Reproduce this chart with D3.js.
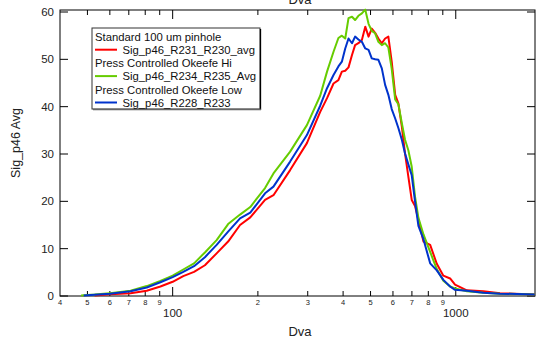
<!DOCTYPE html>
<html>
<head>
<meta charset="utf-8">
<script src="https://cdn.jsdelivr.net/npm/d3@7"></script>
<style>
  html, body { margin: 0; padding: 0; background: #fff; }
  svg { display: block; font-family: "Liberation Sans", Arial, sans-serif; }
</style>
</head>
<body>
<svg id="chart" width="537" height="341"></svg>
<script>
// Dva values (x) shared by all three series
const dva = [47.5, 48.5, 53, 60, 71, 81, 90.5, 100, 109, 119, 130, 143, 157, 173, 188, 212, 227, 260, 298, 332,
  351, 370, 385, 396, 407, 418, 430, 441, 453, 466, 479, 492, 505, 519, 533, 548, 563, 578, 594, 611,
  627, 645, 662, 680, 699, 718, 738, 769, 812, 857, 904, 955, 994, 1094, 1252, 1433, 1900];

const redVals = [null, null, 0.1, 0.35, 0.6, 1.1, 2.0, 3.0, 4.2, 5.1, 6.5, 9.0, 11.5, 15.0, 16.6, 20.3, 21.3, 26.6, 32.3, 38.9,
  41.8, 44.9, 45.6, 47.4, 47.6, 48.3, 50.9, 53.0, 53.4, 54.1, 56.9, 54.8, 56.5, 55.6, 54.4, 53.4, 54.4, 54.8, 49.5, 42.5,
  40.7, 35.8, 30.1, 25.2, 20.3, 19.0, 16.1, 11.5, 10.8, 6.8, 4.3, 3.7, 2.4, 1.2, 1.0, 0.6, 0.3];

const greenVals = [0.1, 0.15, 0.3, 0.6, 1.1, 2.1, 3.2, 4.3, 5.6, 6.9, 9.2, 11.8, 15.2, 17.2, 18.8, 22.8, 25.9, 30.5, 36.1, 42.3,
  47.4, 51.6, 54.5, 55.0, 54.4, 58.7, 59.0, 58.3, 59.2, 59.7, 60.5, 57.5, 56.0, 55.5, 53.7, 53.0, 53.4, 52.5, 48.0, 41.5,
  40.5, 36.5, 33.0, 30.8, 27.3, 21.0, 16.5, 13.0, 9.3, 5.7, 3.2, 2.0, 1.6, 1.0, 0.7, 0.5, 0.3];

const blueVals = [null, 0.1, 0.25, 0.5, 1.0, 1.8, 2.9, 4.0, 5.1, 6.3, 8.2, 10.8, 13.6, 16.4, 17.6, 21.7, 23.1, 28.4, 34.0, 40.2,
  43.9, 46.7, 48.5, 49.5, 52.3, 54.4, 53.4, 54.8, 54.2, 53.7, 52.3, 52.0, 50.2, 50.0, 49.9, 48.1, 44.6, 42.5, 39.5, 37.5,
  35.5, 33.0, 30.1, 27.8, 25.5, 20.0, 14.8, 12.0, 6.9, 5.4, 3.4, 2.0, 1.3, 1.1, 0.7, 0.5, 0.3];

const legendItems = [
  { title: "Standard 100 um pinhole", name: "Sig_p46_R231_R230_avg", color: "#ff0000", vals: redVals },
  { title: "Press Controlled Okeefe Hi", name: "Sig_p46_R234_R235_Avg", color: "#66cc00", vals: greenVals },
  { title: "Press Controlled Okeefe Low", name: "Sig_p46_R228_R233", color: "#0033cc", vals: blueVals }
];

const yTicks = [0, 10, 20, 30, 40, 50, 60];
const xMinor = [50, 60, 70, 80, 90, 200, 300, 400, 500, 600, 700, 800, 900];
const xMajor = [100, 1000];

const svg = d3.select("#chart");
const mLeft = 60, mRight = 535, mTop = 10, mBottom = 296;

const x = d3.scaleLog().domain([40, 1905]).range([mLeft, mRight]);
const y = d3.scaleLinear().domain([0, 60]).range([mBottom, 12]);

// frame
svg.append("rect")
  .attr("x", mLeft).attr("y", mTop)
  .attr("width", mRight - mLeft).attr("height", mBottom - mTop)
  .attr("fill", "none").attr("stroke", "#000").attr("stroke-width", 1);

// x ticks, bottom and top, pointing inward
const g = svg.append("g").attr("stroke", "#000").attr("stroke-width", 1);
xMinor.forEach(v => {
  g.append("line").attr("x1", x(v)).attr("x2", x(v)).attr("y1", mBottom).attr("y2", mBottom - 5);
  g.append("line").attr("x1", x(v)).attr("x2", x(v)).attr("y1", mTop).attr("y2", mTop + 5);
});
xMajor.forEach(v => {
  g.append("line").attr("x1", x(v)).attr("x2", x(v)).attr("y1", mBottom).attr("y2", mBottom - 9);
  g.append("line").attr("x1", x(v)).attr("x2", x(v)).attr("y1", mTop).attr("y2", mTop + 9);
});
yTicks.forEach(v => {
  g.append("line").attr("x1", mLeft).attr("x2", mLeft + 8).attr("y1", y(v)).attr("y2", y(v));
  g.append("line").attr("x1", mRight).attr("x2", mRight - 8).attr("y1", y(v)).attr("y2", y(v));
});

// tick labels
const minorLabels = [40].concat(xMinor);
minorLabels.forEach(v => {
  const lead = String(v)[0];
  svg.append("text").attr("x", x(v)).attr("y", 304.5)
    .attr("text-anchor", "middle").attr("font-size", 7.5).attr("fill", "#222")
    .text(lead);
});
xMajor.forEach(v => {
  svg.append("text").attr("x", x(v)).attr("y", 316.5)
    .attr("text-anchor", "middle").attr("font-size", 11.5).attr("fill", "#222")
    .text(v);
});
yTicks.forEach(v => {
  svg.append("text").attr("x", 54).attr("y", y(v) + 4)
    .attr("text-anchor", "end").attr("font-size", 11.5).attr("fill", "#222")
    .text(v);
});

// axis titles
svg.append("text").attr("x", 300).attr("y", 336).attr("text-anchor", "middle")
  .attr("font-size", 13).attr("fill", "#222").text("Dva");
svg.append("text").attr("x", 300).attr("y", 4).attr("text-anchor", "middle")
  .attr("font-size", 13).attr("fill", "#222").text("Dva");
svg.append("text").attr("transform", "translate(20,143) rotate(-90)")
  .attr("text-anchor", "middle").attr("font-size", 12.5).attr("fill", "#222").text("Sig_p46 Avg");

// curves
const line = d3.line()
  .defined(d => d[1] != null)
  .x(d => x(d[0]))
  .y(d => y(d[1]));

legendItems.forEach(s => {
  svg.append("path")
    .attr("d", line(dva.map((d, i) => [d, s.vals[i]])))
    .attr("fill", "none").attr("stroke", s.color).attr("stroke-width", 2)
    .attr("stroke-linejoin", "round");
});

// legend
const lg = svg.append("g");
lg.append("rect").attr("x", 92).attr("y", 28).attr("width", 168).attr("height", 81)
  .attr("fill", "#fff").attr("stroke", "#333").attr("stroke-width", 1);
lg.append("line").attr("x1", 260.5).attr("x2", 260.5).attr("y1", 29).attr("y2", 110)
  .attr("stroke", "#000").attr("stroke-width", 1.3);
lg.append("line").attr("x1", 93).attr("x2", 261).attr("y1", 109.5).attr("y2", 109.5)
  .attr("stroke", "#666").attr("stroke-width", 1.3);
legendItems.forEach((s, i) => {
  const yy = 36.7 + i * 26.4;
  lg.append("text").attr("x", 95).attr("y", yy + 4).attr("font-size", 11.3).attr("fill", "#111").text(s.title);
  lg.append("line").attr("x1", 95).attr("x2", 117).attr("y1", yy + 13).attr("y2", yy + 13)
    .attr("stroke", s.color).attr("stroke-width", 2);
  lg.append("text").attr("x", 122.5).attr("y", yy + 17).attr("font-size", 11.3).attr("fill", "#111").text(s.name);
});
</script>
</body>
</html>
